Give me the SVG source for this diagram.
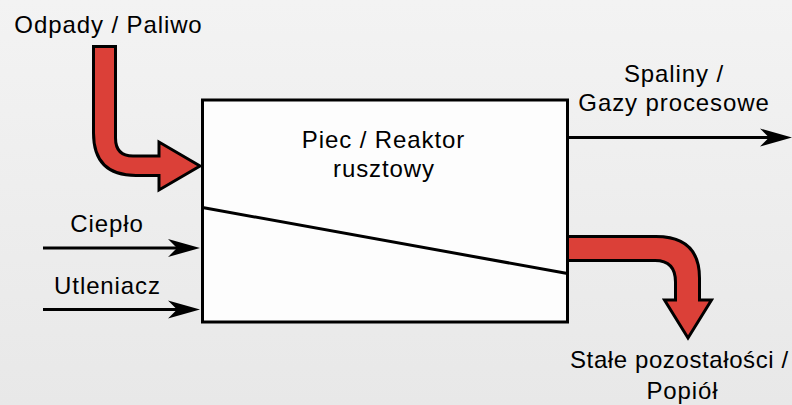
<svg xmlns="http://www.w3.org/2000/svg" width="792" height="405" viewBox="0 0 792 405">
  <defs>
    <linearGradient id="bg" x1="0" y1="0" x2="0" y2="1">
      <stop offset="0" stop-color="#f3f3f3"/>
      <stop offset="1" stop-color="#e8e8e8"/>
    </linearGradient>
    <marker id="head" viewBox="0 0 32 20" refX="17" refY="10" markerWidth="32" markerHeight="20" markerUnits="userSpaceOnUse" orient="auto">
      <path d="M32,10 L0,1 L9,10 L0,19 Z" fill="#000"/>
    </marker>
  </defs>
  <style>
    text { font-family: "Liberation Sans", Arial, sans-serif; font-size: 24px; letter-spacing: 0.9px; fill: #000; }
    .mid { text-anchor: middle; }
    .thin { stroke: #000; stroke-width: 3; fill: none; marker-end: url(#head); }
    .fat { fill: #db4038; stroke: #000; stroke-width: 3; stroke-linejoin: miter; }
    .box { fill: #fdfdfd; stroke: #000; stroke-width: 3; }
  </style>
  <rect x="0" y="0" width="792" height="405" fill="url(#bg)"/>

  <g id="connectors">
    <path class="fat" d="M93.5,46.5 H115.5 V138 Q115.5,156 133,156 H159 V142 L200,166 L159,190 V175.5 H136 Q93.5,175.5 93.5,133 Z"/>
    <path class="fat" d="M567.5,236.5 H656 Q699.5,236.5 699.5,278 V300 H711.5 L688,338 L664.5,300 H675.5 V282 Q675.5,260.5 655,260.5 H567.5 Z"/>
    <line class="thin" x1="43" y1="248" x2="185" y2="248"/>
    <line class="thin" x1="43" y1="309.5" x2="185" y2="309.5"/>
    <line class="thin" x1="567.5" y1="137.5" x2="777" y2="137.5"/>
  </g>

  <g id="reactor">
    <rect class="box" x="202.5" y="100" width="365" height="222"/>
    <line x1="202.5" y1="207.5" x2="567.5" y2="273.5" stroke="#000" stroke-width="3"/>
    <text class="mid" x="383.5" y="148">Piec / Reaktor</text>
    <text class="mid" x="384" y="177">rusztowy</text>
  </g>

  <g id="label-fuel">
    <text class="mid" x="108.5" y="33">Odpady / Paliwo</text>
  </g>
  <g id="label-heat">
    <text class="mid" x="107" y="232">Ciepło</text>
  </g>
  <g id="label-oxidizer">
    <text class="mid" x="107.5" y="294">Utleniacz</text>
  </g>
  <g id="label-fluegas">
    <text class="mid" x="674" y="82">Spaliny /</text>
    <text class="mid" x="674" y="111">Gazy procesowe</text>
  </g>
  <g id="label-ash">
    <text x="570" y="368" style="letter-spacing:0.6px">Stałe pozostałości /</text>
    <text class="mid" x="682.5" y="399">Popiół</text>
  </g>
</svg>
